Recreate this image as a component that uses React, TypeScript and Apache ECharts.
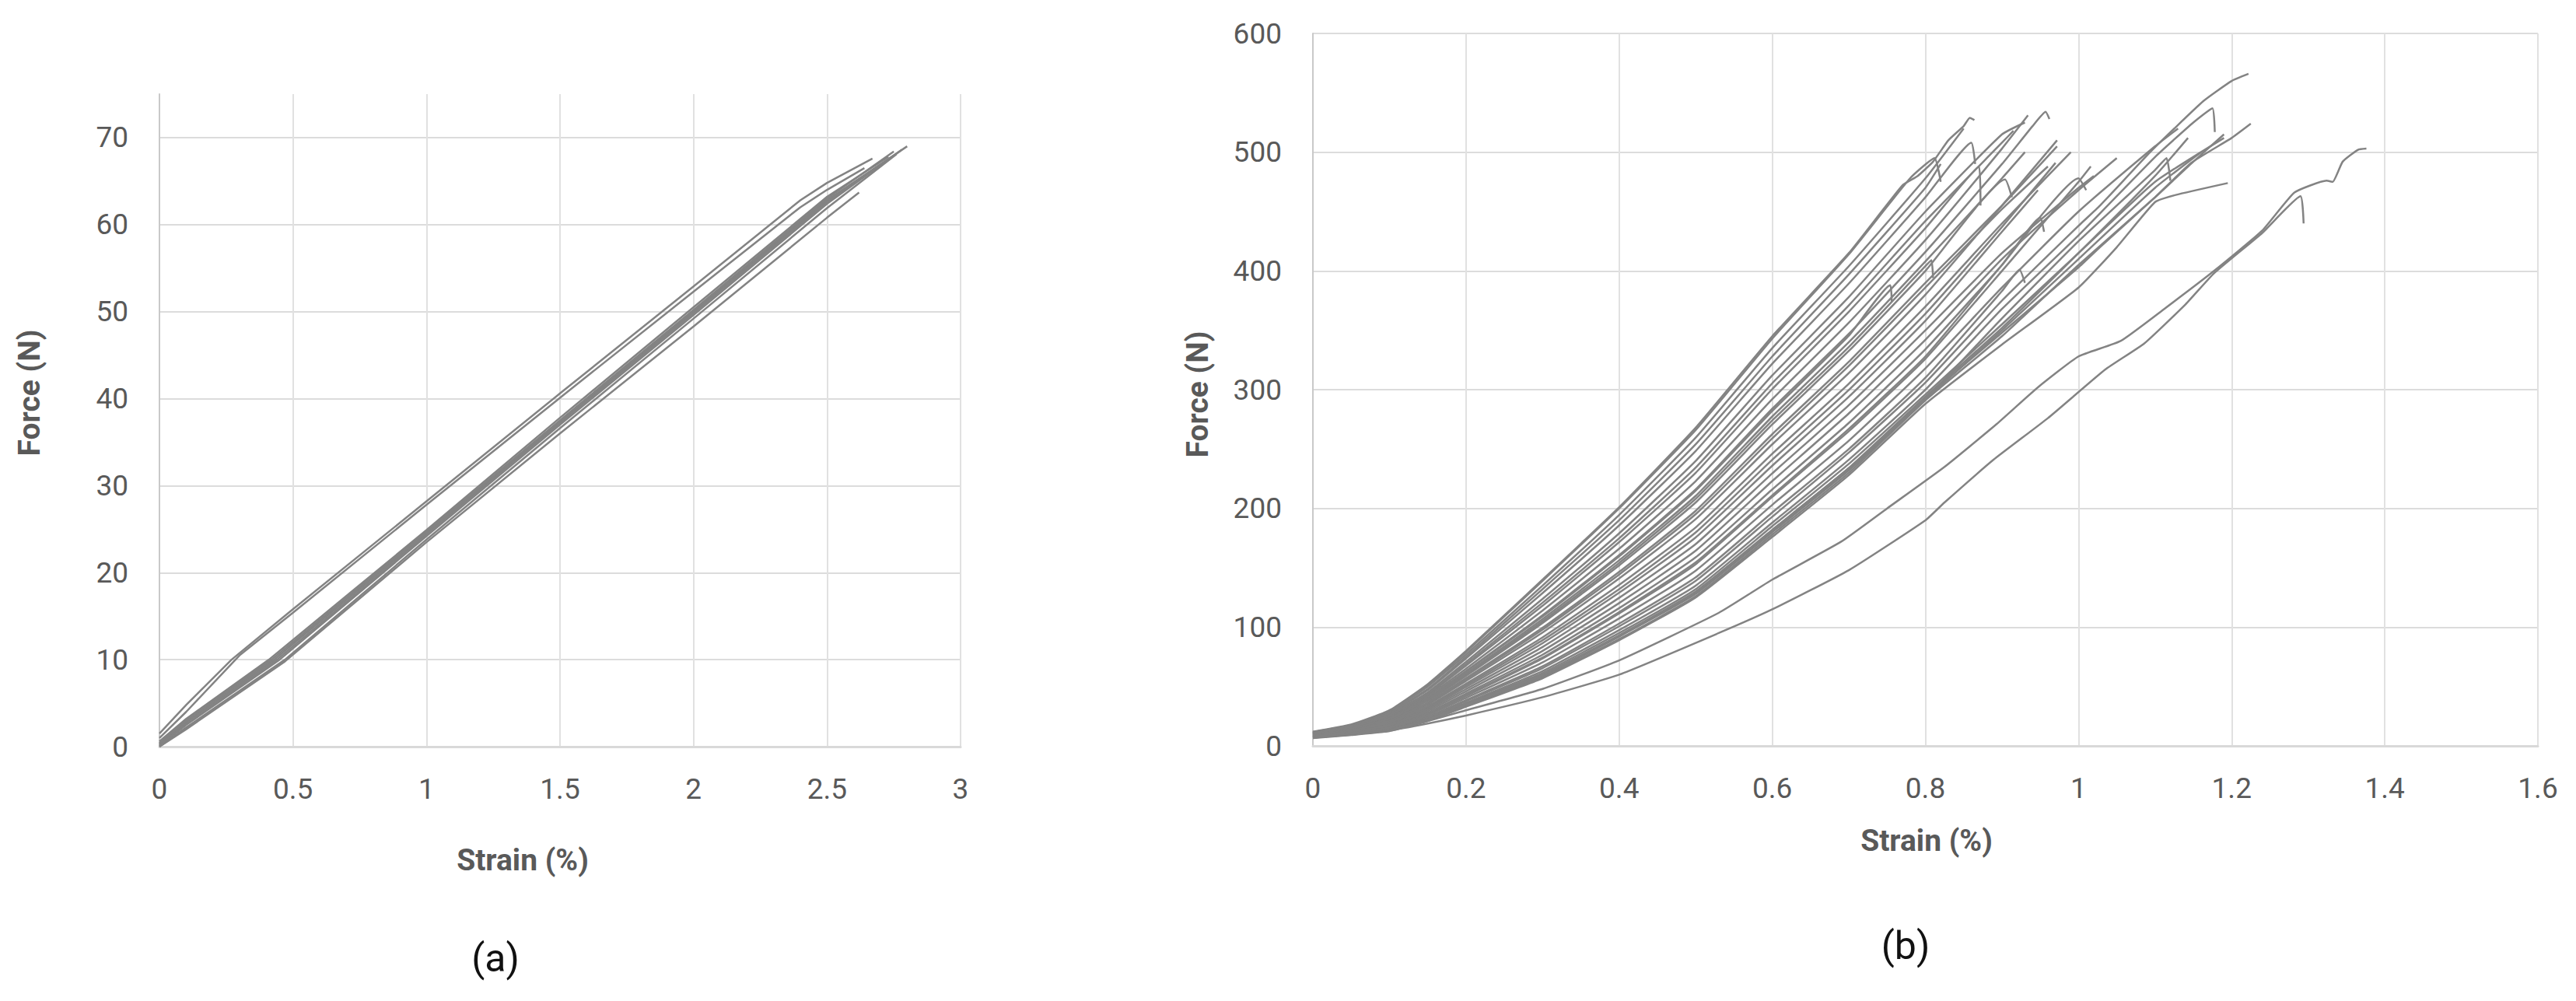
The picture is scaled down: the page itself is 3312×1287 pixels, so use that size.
import React, { useEffect, useRef } from "react";
import * as echarts from "echarts";

// ---------- Panel (a): strain (%) vs force (N), nine specimens ----------
const strainTicksA = { min: 0, max: 3, interval: 0.5 };
const forceTicksA = { min: 0, max: 75, interval: 10 };

const a1 = [[0, 1.5], [0.1, 4.8], [0.27, 10], [0.5, 15.8], [1, 28.2], [1.5, 40.6], [2, 52.9], [2.4, 62.8], [2.5, 64.8], [2.67, 67.6]];
const a2 = [[0, 1.0], [0.1, 4.0], [0.3, 10.5], [0.5, 15.4], [1, 27.8], [1.5, 40.1], [2, 52.3], [2.4, 62], [2.5, 64], [2.64, 66.5]];
const a3 = [[0, 0.3], [0.1, 2.8], [0.43, 10], [0.5, 11.8], [1, 24.5], [1.5, 37.3], [2, 50], [2.5, 62.8], [2.8, 69]];
const a4 = [[0, 0.1], [0.1, 2.5], [0.45, 10], [1, 24.2], [1.5, 37], [2, 49.6], [2.5, 62.4], [2.78, 68.6]];
const a5 = [[0, 0], [0.1, 2.2], [0.47, 10], [1, 23.8], [1.5, 36.6], [2, 49.2], [2.5, 61.9], [2.76, 68.1]];
const a6 = [[0, 0.6], [0.1, 3.2], [0.41, 10], [1, 24.9], [1.5, 37.8], [2, 50.5], [2.5, 63.2], [2.73, 67.8]];
const a7 = [[0, 0], [0.1, 2.0], [0.47, 9.8], [1, 23.5], [1.5, 36], [2, 48.3], [2.5, 60.8], [2.62, 63.7]];
const a8 = [[0, 0.2], [0.1, 2.6], [0.44, 10], [1, 24.3], [1.5, 37.1], [2, 49.8], [2.5, 62.6], [2.7, 66.9]];
const a9 = [[0, 0.4], [0.1, 3.0], [0.42, 10], [1, 24.7], [1.5, 37.5], [2, 50.2], [2.5, 63], [2.75, 68.4]];
const curvesA = [a1, a2, a3, a4, a5, a6, a7, a8, a9];

// ---------- Panel (b): strain (%) vs force (N), many specimens ----------
const strainTicksB = { min: 0, max: 1.6, interval: 0.2 };
const forceTicksB = { min: 0, max: 600, interval: 100 };

const b01 = [[0, 12], [0.05, 18], [0.1, 30], [0.15, 52], [0.2, 80], [0.3, 140], [0.4, 201], [0.5, 268], [0.6, 345], [0.7, 415], [0.77, 472], [0.79, 480], [0.81, 492], [0.83, 510], [0.85, 522], [0.858, 529], [0.864, 527]];
const b02 = [[0, 11], [0.05, 17], [0.1, 29], [0.15, 51], [0.2, 79], [0.3, 139], [0.4, 200], [0.5, 266], [0.6, 343], [0.7, 414], [0.78, 478], [0.812, 495], [0.82, 475]];
const b03 = [[0, 11.7], [0.05, 17.5], [0.1, 29], [0.15, 50], [0.2, 77], [0.3, 135], [0.4, 194.5], [0.5, 259.6], [0.6, 335], [0.7, 404], [0.8, 478], [0.85, 520]];
const b04 = [[0, 11.5], [0.05, 17], [0.1, 28], [0.15, 48], [0.2, 75], [0.3, 132], [0.4, 190], [0.5, 254], [0.6, 328], [0.7, 397], [0.8, 470], [0.82, 490]];
const b05 = [[0, 11], [0.05, 16], [0.1, 26.6], [0.15, 45], [0.2, 70.8], [0.3, 123.8], [0.4, 179], [0.5, 240], [0.6, 312], [0.7, 378], [0.8, 450], [0.9, 515], [0.93, 525]];
const b06 = [[0, 10.6], [0.05, 15.5], [0.1, 25.4], [0.15, 43], [0.2, 67.6], [0.3, 118], [0.4, 171.6], [0.5, 230], [0.6, 300.5], [0.7, 365.6], [0.8, 436], [0.87, 488], [0.872, 455]];
const b07 = [[0, 10.4], [0.05, 15], [0.1, 24.6], [0.15, 42], [0.2, 65], [0.3, 114], [0.4, 166], [0.5, 223], [0.6, 292], [0.7, 356.4], [0.8, 426], [0.9, 503], [0.934, 531]];
const b08 = [[0, 10.2], [0.05, 14.8], [0.1, 23.7], [0.15, 40.5], [0.2, 63], [0.3, 110], [0.4, 160.7], [0.5, 216], [0.6, 284], [0.7, 347], [0.8, 416], [0.9, 490], [0.94, 522], [0.957, 534], [0.962, 528]];
const b09 = [[0, 10.1], [0.05, 14.6], [0.1, 23.5], [0.15, 40], [0.2, 62.5], [0.3, 109], [0.4, 159.6], [0.5, 215], [0.6, 282], [0.7, 345.5], [0.754, 388], [0.756, 374]];
const b10 = [[0, 9.9], [0.05, 14.3], [0.1, 22.7], [0.15, 38.5], [0.2, 60], [0.3, 105], [0.4, 154], [0.5, 208], [0.6, 274], [0.7, 336], [0.8, 404], [0.808, 409], [0.81, 394]];
const b11 = [[0, 9.8], [0.05, 14.1], [0.1, 22.4], [0.15, 38], [0.2, 59], [0.3, 103.5], [0.4, 152], [0.5, 205], [0.6, 270.7], [0.7, 332.6], [0.8, 400], [0.904, 477], [0.913, 462]];
const b12 = [[0, 9.5], [0.05, 13.8], [0.1, 21.5], [0.15, 36.5], [0.2, 57], [0.3, 99.5], [0.4, 146.5], [0.5, 198], [0.6, 262.5], [0.7, 323.5], [0.8, 390], [0.9, 455], [0.972, 505]];
const b13 = [[0, 9.3], [0.05, 13.4], [0.1, 20.7], [0.15, 35], [0.2, 54.7], [0.3, 95.5], [0.4, 141], [0.5, 191], [0.6, 254], [0.7, 314], [0.8, 380], [0.9, 455], [0.972, 510]];
const b14 = [[0, 8.9], [0.05, 12.8], [0.1, 19.3], [0.15, 32.5], [0.2, 51], [0.3, 89], [0.4, 132], [0.5, 179.8], [0.6, 241], [0.7, 299.7], [0.8, 364], [0.9, 437], [0.97, 491]];
const b15 = [[0, 8.7], [0.05, 12.5], [0.1, 18.8], [0.15, 31.5], [0.2, 49.6], [0.3, 86.5], [0.4, 129], [0.5, 175.6], [0.6, 236], [0.7, 294], [0.8, 358], [0.9, 433], [0.947, 468]];
const b16 = [[0, 8.5], [0.05, 12.2], [0.1, 18.1], [0.15, 30.5], [0.2, 47.8], [0.3, 83.3], [0.4, 124.7], [0.5, 170], [0.6, 229.5], [0.7, 287], [0.8, 350], [0.9, 415], [1.0, 470], [1.02, 480]];
const b17 = [[0, 8.1], [0.05, 11.5], [0.1, 16.7], [0.15, 28], [0.2, 44], [0.3, 76.8], [0.4, 116], [0.5, 158.8], [0.6, 216], [0.7, 272], [0.8, 334], [0.9, 405], [0.95, 445], [0.955, 433]];
const b18 = [[0, 7.9], [0.05, 11.2], [0.1, 16], [0.15, 27], [0.2, 42], [0.3, 73.6], [0.4, 111.6], [0.5, 153], [0.6, 209.7], [0.7, 265], [0.8, 326], [0.9, 400], [1.0, 475], [1.016, 488]];
const b19 = [[0, 8], [0.05, 11.3], [0.1, 16.2], [0.15, 27.3], [0.2, 42.7], [0.3, 74.4], [0.4, 112.7], [0.5, 154.6], [0.6, 211], [0.7, 267], [0.8, 328], [0.9, 405], [1.0, 478], [1.01, 468]];
const b20 = [[0, 7.5], [0.05, 10.5], [0.1, 14.7], [0.15, 24.6], [0.2, 38.6], [0.3, 67], [0.4, 103], [0.5, 142], [0.6, 196.5], [0.7, 250], [0.8, 310], [0.9, 383], [0.923, 401], [0.93, 390]];
const b21 = [[0, 7.4], [0.05, 10.3], [0.1, 14.4], [0.15, 24], [0.2, 37.7], [0.3, 65.5], [0.4, 100.7], [0.5, 139], [0.6, 193], [0.7, 247], [0.8, 306], [0.9, 375], [1.0, 438], [1.028, 455], [1.095, 501], [1.163, 543], [1.2, 560], [1.222, 566]];
const b22 = [[0, 7.3], [0.05, 10.1], [0.1, 13.9], [0.15, 23.2], [0.2, 36.3], [0.3, 63], [0.4, 97.5], [0.5, 135], [0.6, 188], [0.7, 241], [0.8, 300], [0.9, 368], [1.0, 430], [1.1, 496], [1.15, 525], [1.175, 537], [1.178, 517]];
const b23 = [[0, 7.2], [0.05, 9.9], [0.1, 13.5], [0.15, 22.6], [0.2, 35.4], [0.3, 61.4], [0.4, 95], [0.5, 132], [0.6, 185], [0.7, 237.5], [0.8, 296], [0.9, 355], [1.0, 415], [1.1, 475], [1.19, 512]];
const b24 = [[0, 7], [0.05, 9.6], [0.1, 13], [0.15, 21.8], [0.2, 34], [0.3, 59], [0.4, 92], [0.5, 128], [0.6, 180], [0.7, 232], [0.8, 292], [0.9, 360], [1.0, 425], [1.1, 485], [1.115, 495], [1.12, 476]];
const b25 = [[0, 7], [0.05, 9.7], [0.1, 13.2], [0.15, 22], [0.2, 34.5], [0.3, 60], [0.4, 93], [0.5, 130], [0.6, 182], [0.7, 234], [0.8, 294], [0.9, 352], [1.0, 415], [1.1, 480], [1.143, 512]];
const b26 = [[0, 6.8], [0.05, 9.4], [0.1, 12.8], [0.15, 21.4], [0.2, 33.5], [0.3, 58], [0.4, 90], [0.5, 126], [0.6, 178], [0.7, 230], [0.8, 291], [0.9, 345], [1.0, 405], [1.1, 462], [1.15, 492], [1.19, 515]];
const b27 = [[0, 7], [0.05, 9.6], [0.1, 13], [0.15, 21.7], [0.2, 34], [0.3, 59.5], [0.4, 92.5], [0.5, 129], [0.6, 181], [0.7, 233], [0.8, 293], [0.9, 348], [1.0, 403], [1.028, 420], [1.1, 462], [1.147, 491], [1.2, 512], [1.225, 524]];
const b28 = [[0, 6.5], [0.05, 9.1], [0.1, 12.5], [0.15, 21], [0.2, 33], [0.3, 57], [0.4, 89], [0.5, 125], [0.6, 176], [0.7, 228], [0.8, 288], [0.9, 338], [1.0, 386], [1.05, 420], [1.1, 458], [1.127, 464], [1.195, 474]];
const b29 = [[0, 8], [0.05, 10.5], [0.1, 14], [0.15, 21], [0.2, 30], [0.3, 48], [0.4, 72], [0.53, 112], [0.6, 140], [0.69, 172], [0.75, 200], [0.825, 235], [0.893, 271], [0.947, 302], [1.0, 328], [1.055, 341], [1.112, 368], [1.177, 400], [1.24, 434], [1.282, 466], [1.324, 476], [1.332, 475], [1.345, 492], [1.365, 502], [1.376, 503]];
const b30 = [[0, 8], [0.05, 10.2], [0.1, 13], [0.15, 18.8], [0.2, 25.6], [0.3, 41], [0.4, 60], [0.53, 95], [0.6, 115], [0.7, 148], [0.8, 190], [0.825, 205], [0.889, 241], [0.96, 276], [1.035, 317], [1.086, 339], [1.14, 372], [1.177, 398], [1.24, 432], [1.29, 463], [1.294, 440]];
const b31 = [[0, 11.3], [0.05, 16.8], [0.1, 27.6], [0.15, 47], [0.2, 73.6], [0.3, 128.7], [0.4, 185.7], [0.5, 248.4], [0.6, 321.9], [0.7, 389.4], [0.8, 462], [0.86, 508], [0.865, 490]];
const b32 = [[0, 10.8], [0.05, 15.8], [0.1, 25.9], [0.15, 44], [0.2, 69], [0.3, 120.6], [0.4, 174.8], [0.5, 234.4], [0.6, 305.4], [0.7, 371], [0.8, 442], [0.9, 508], [0.915, 518]];
const b33 = [[0, 10], [0.05, 14.5], [0.1, 23], [0.15, 39], [0.2, 61], [0.3, 106.8], [0.4, 156.3], [0.5, 210.6], [0.6, 277.4], [0.7, 340], [0.8, 408], [0.9, 478], [0.93, 500]];
const b34 = [[0, 9.4], [0.05, 13.6], [0.1, 21.2], [0.15, 36], [0.2, 56], [0.3, 97.9], [0.4, 144.3], [0.5, 195.2], [0.6, 259], [0.7, 320], [0.8, 386], [0.9, 452], [0.96, 488]];
const b35 = [[0, 9], [0.05, 13], [0.1, 19.8], [0.15, 33.5], [0.2, 52.4], [0.3, 91.4], [0.4, 135.6], [0.5, 184], [0.6, 246], [0.7, 305], [0.8, 370], [0.9, 440], [0.99, 500]];
const b36 = [[0, 8.3], [0.05, 11.8], [0.1, 17.4], [0.15, 29.3], [0.2, 46], [0.3, 80], [0.4, 120.3], [0.5, 164.4], [0.6, 223], [0.7, 280], [0.8, 342], [0.9, 410], [1.0, 468], [1.05, 495]];
const b37 = [[0, 7.7], [0.05, 10.8], [0.1, 15.4], [0.15, 25.8], [0.2, 40.4], [0.3, 70.3], [0.4, 107.3], [0.5, 147.6], [0.6, 203], [0.7, 257], [0.8, 318], [0.9, 386], [1.0, 450], [1.1, 505], [1.13, 520]];
const b38 = [[0, 7], [0.05, 9.7], [0.1, 13.2], [0.15, 22], [0.2, 34.5], [0.3, 59.8], [0.4, 93], [0.5, 129.4], [0.6, 181.6], [0.7, 233.8], [0.8, 292], [0.9, 350], [1.0, 410], [1.1, 470], [1.16, 500]];
const curvesB = [b01, b02, b03, b04, b05, b06, b07, b08, b09, b10, b11, b12, b13, b14, b15, b16, b17, b18, b19, b20, b21, b22, b23, b24, b25, b26, b27, b28, b29, b30, b31, b32, b33, b34, b35, b36, b37, b38];

const LINE_COLOR = "#838383";
const LABEL_COLOR = "#595959";
const GRID_COLOR = "#e1e1e1";
const FONT = "Roboto, 'Noto Sans', sans-serif";

function makeXAxis(gridIndex: number, t: { min: number; max: number; interval: number }) {
  return {
    type: "value",
    gridIndex,
    min: t.min,
    max: t.max,
    interval: t.interval,
    axisLine: { show: true, onZero: false, lineStyle: { color: "#d9d9d9", width: 3 } },
    axisTick: { show: false },
    axisLabel: { margin: 36, fontSize: 37, color: LABEL_COLOR, fontFamily: FONT },
    splitLine: { show: true, lineStyle: { color: GRID_COLOR, width: 2 } },
  };
}

function makeYAxis(gridIndex: number, t: { min: number; max: number; interval: number }, hideMax: boolean) {
  return {
    type: "value",
    gridIndex,
    min: t.min,
    max: t.max,
    interval: t.interval,
    axisLine: { show: true, onZero: false, lineStyle: { color: "#c9c9c9", width: 2 } },
    axisTick: { show: false },
    axisLabel: { margin: 40, fontSize: 37, color: LABEL_COLOR, fontFamily: FONT, showMaxLabel: !hideMax },
    splitLine: { show: true, showMaxLine: !hideMax, lineStyle: { color: "#dcdcdc", width: 2 } },
  };
}

function makeSeries(curves: number[][][], idx: number, smooth: number | boolean) {
  return curves.map((c, i) => ({
    type: "line",
    name: (idx === 0 ? "a" : "b") + (i + 1),
    xAxisIndex: idx,
    yAxisIndex: idx,
    data: c,
    showSymbol: false,
    symbol: "none",
    silent: true,
    smooth,
    lineStyle: { color: LINE_COLOR, width: 2.5 },
  }));
}

const titleStyleBold = { fontSize: 39, fontWeight: "bold", fill: LABEL_COLOR, fontFamily: FONT, align: "center", verticalAlign: "middle" };
const captionStyle = { fontSize: 50, fill: "#111111", fontFamily: FONT, align: "center", verticalAlign: "middle" };

export default function App() {
  const ref = useRef<HTMLDivElement>(null);
  useEffect(() => {
    if (!ref.current) return;
    const chart = echarts.init(ref.current, null, { renderer: "svg" });
    chart.setOption({
      animation: false,
      backgroundColor: "#ffffff",
      grid: [
        { left: 205, top: 121, width: 1030, height: 839 },
        { left: 1688, top: 43, width: 1575, height: 916 },
      ],
      xAxis: [makeXAxis(0, strainTicksA), makeXAxis(1, strainTicksB)],
      yAxis: [makeYAxis(0, forceTicksA, true), makeYAxis(1, forceTicksB, false)],
      series: [...makeSeries(curvesA, 0, false), ...makeSeries(curvesB, 1, 0.15)],
      graphic: [
        { type: "text", x: 672, y: 1106, style: { ...titleStyleBold, text: "Strain (%)" } },
        { type: "text", x: 2477, y: 1081, style: { ...titleStyleBold, text: "Strain (%)" } },
        { type: "text", x: 38, y: 505, rotation: Math.PI / 2, style: { ...titleStyleBold, text: "Force (N)" } },
        { type: "text", x: 1540, y: 507, rotation: Math.PI / 2, style: { ...titleStyleBold, text: "Force (N)" } },
        { type: "text", x: 637, y: 1232, style: { ...captionStyle, text: "(a)" } },
        { type: "text", x: 2450, y: 1216, style: { ...captionStyle, text: "(b)" } },
      ],
    });
    return () => chart.dispose();
  }, []);
  return (
    <div
      ref={ref}
      style={{ position: "absolute", left: 0, top: 0, width: 3312, height: 1287, background: "#fff" }}
    />
  );
}
